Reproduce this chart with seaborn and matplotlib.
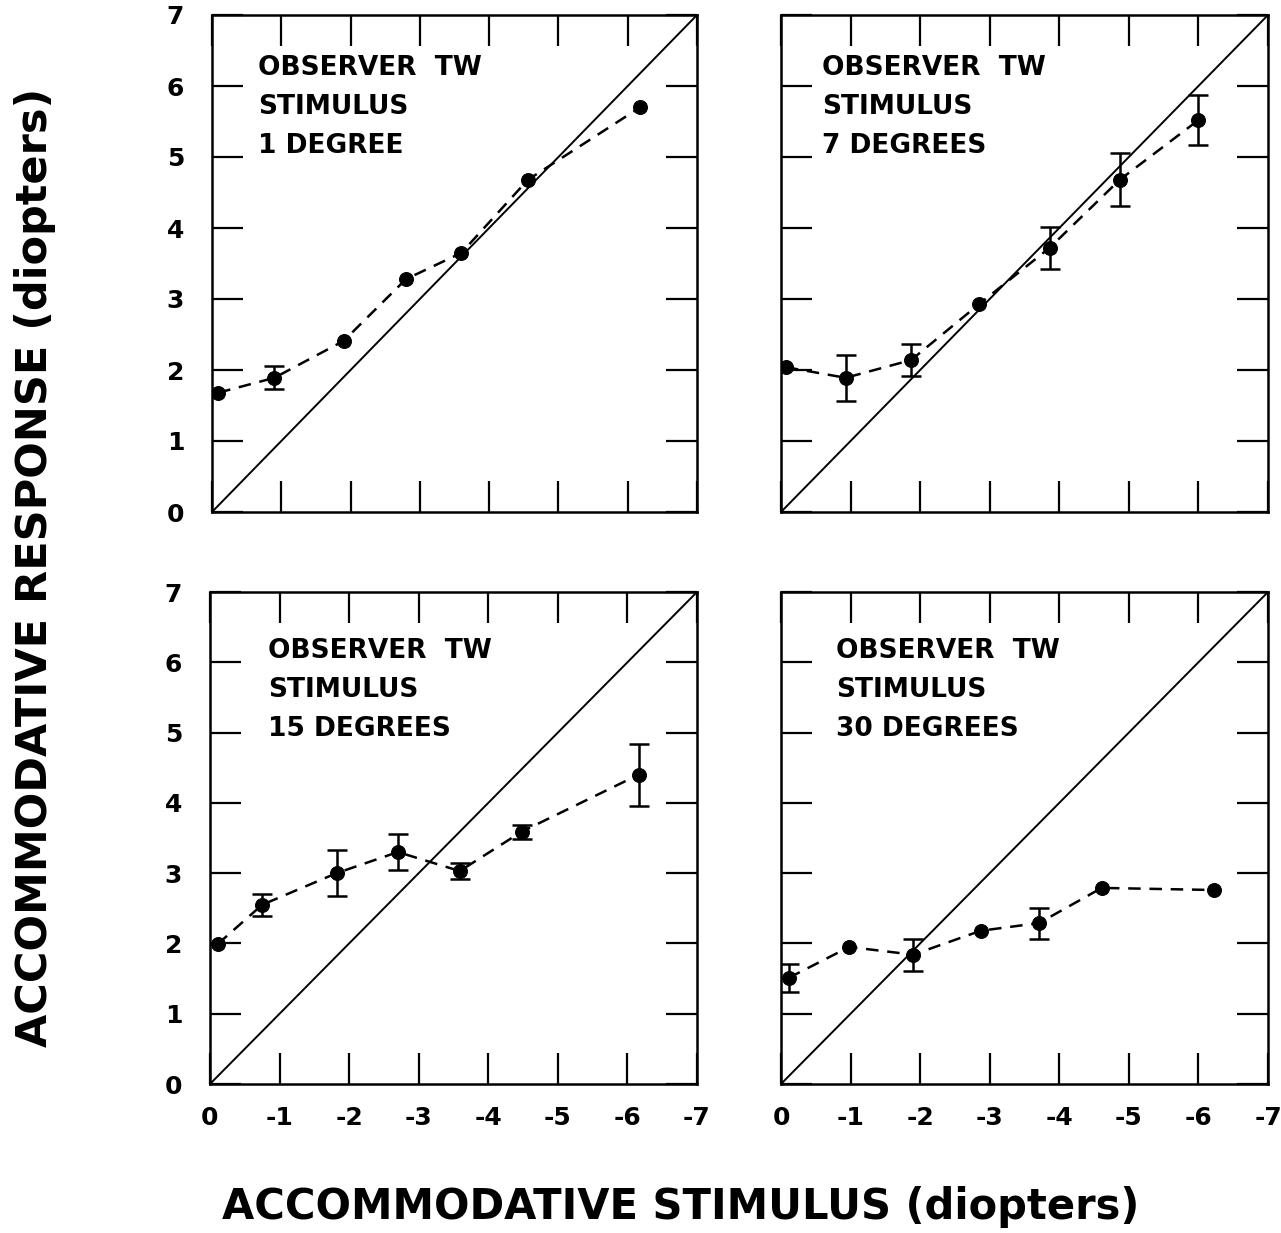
import numpy as np
import pandas as pd
import matplotlib
matplotlib.use("Agg")
import matplotlib.pyplot as plt
import seaborn as sns

sns.set_style("ticks")
plt.rcParams['font.family'] = ['DejaVu Sans']
plt.rcParams['axes.unicode_minus'] = False
for key in ['text.color', 'axes.labelcolor', 'xtick.color', 'ytick.color', 'axes.edgecolor']:
    plt.rcParams[key] = 'black'

# ---- data (stimulus in diopters, response in diopters) ----
stim_1deg = [-0.09, -0.9, -1.9, -2.8, -3.6, -4.56, -6.18]
resp_1deg = [1.68, 1.89, 2.41, 3.28, 3.65, 4.68, 5.70]
err_1deg = [np.nan, 0.16, np.nan, np.nan, np.nan, np.nan, np.nan]

stim_7deg = [-0.07, -0.93, -1.87, -2.85, -3.86, -4.87, -6.0]
resp_7deg = [2.04, 1.89, 2.14, 2.93, 3.72, 4.68, 5.52]
err_7deg = [np.nan, 0.32, 0.22, np.nan, 0.30, 0.37, 0.35]

stim_15deg = [-0.11, -0.75, -1.82, -2.70, -3.59, -4.48, -6.16]
resp_15deg = [1.99, 2.55, 3.0, 3.30, 3.03, 3.59, 4.40]
err_15deg = [np.nan, 0.16, 0.33, 0.26, 0.12, 0.10, 0.44]

stim_30deg = [-0.11, -0.98, -1.9, -2.87, -3.71, -4.61, -6.22]
resp_30deg = [1.51, 1.95, 1.84, 2.18, 2.29, 2.79, 2.76]
err_30deg = [0.20, np.nan, 0.23, np.nan, 0.22, np.nan, np.nan]

panel_labels = ["1 DEGREE", "7 DEGREES", "15 DEGREES", "30 DEGREES"]
x_ticks = [0, -1, -2, -3, -4, -5, -6, -7]
y_ticks = [0, 1, 2, 3, 4, 5, 6, 7]

panels = [
    (stim_1deg, resp_1deg, err_1deg, panel_labels[0]),
    (stim_7deg, resp_7deg, err_7deg, panel_labels[1]),
    (stim_15deg, resp_15deg, err_15deg, panel_labels[2]),
    (stim_30deg, resp_30deg, err_30deg, panel_labels[3]),
]

W, H = 1281, 1233
fig = plt.figure(figsize=(W / 100, H / 100), dpi=100)

boxes_px = [
    (212, 15, 697, 512),
    (781, 15, 1268, 512),
    (210, 592, 697, 1084),
    (781, 592, 1268, 1084),
]
text_pos = [(258, 68), (822, 68), (268, 651), (836, 651)]

for i, ((sx, ry, er, lab), (l, t, r, b)) in enumerate(zip(panels, boxes_px)):
    ax = fig.add_axes([l / W, 1 - b / H, (r - l) / W, (b - t) / H])
    df = pd.DataFrame({"stim": sx, "resp": ry, "err": er})
    # identity line
    ident = pd.DataFrame({"x": [0, -7], "y": [0, 7]})
    sns.lineplot(data=ident, x="x", y="y", ax=ax, color="black", lw=1.4,
                 estimator=None, sort=False)
    sns.lineplot(data=df, x="stim", y="resp", ax=ax, color="black", lw=1.8,
                 linestyle=(0, (5, 3.5)), marker="o", markersize=10,
                 markeredgecolor="black", estimator=None, sort=False, zorder=3)
    d2 = df.dropna()
    ax.errorbar(d2["stim"], d2["resp"], yerr=d2["err"], fmt="none",
                ecolor="black", elinewidth=1.8, capsize=7, capthick=1.8, zorder=3)
    ax.set_xlim(0, -7)
    ax.set_ylim(0, 7)
    ax.set_xticks(x_ticks)
    ax.set_yticks(y_ticks)
    ax.tick_params(direction="in", length=22, width=1.6, top=True, right=True,
                   labelsize=18, colors="black")
    ax.tick_params(axis="x", pad=16)
    ax.tick_params(axis="y", pad=20)
    for s in ax.spines.values():
        s.set_linewidth(1.8)
        s.set_visible(True)
        s.set_color("black")
    ax.set_xlabel("")
    ax.set_ylabel("")
    if i in (0, 2):
        ax.set_yticklabels([str(v) for v in y_ticks], fontweight="bold")
    else:
        ax.set_yticklabels([])
    if i in (2, 3):
        ax.set_xticklabels([str(v) for v in x_ticks], fontweight="bold")
    else:
        ax.set_xticklabels([])
    tx, ty = text_pos[i]
    for k, line in enumerate(["OBSERVER  TW", "STIMULUS", lab]):
        fig.text(tx / W, 1 - (ty + k * 39) / H, line, fontsize=19,
                 fontweight="heavy", ha="left", va="center", color="black")

fig.text(681 / W, 1 - 1207 / H, "ACCOMMODATIVE STIMULUS (diopters)",
         fontsize=30, fontweight="bold", ha="center", va="center", color="black")
fig.text(35 / W, 1 - 567 / H, "ACCOMMODATIVE RESPONSE (diopters)",
         fontsize=31, fontweight="bold", ha="center", va="center", rotation=90,
         color="black")

fig.savefig("out.png", dpi=100)
